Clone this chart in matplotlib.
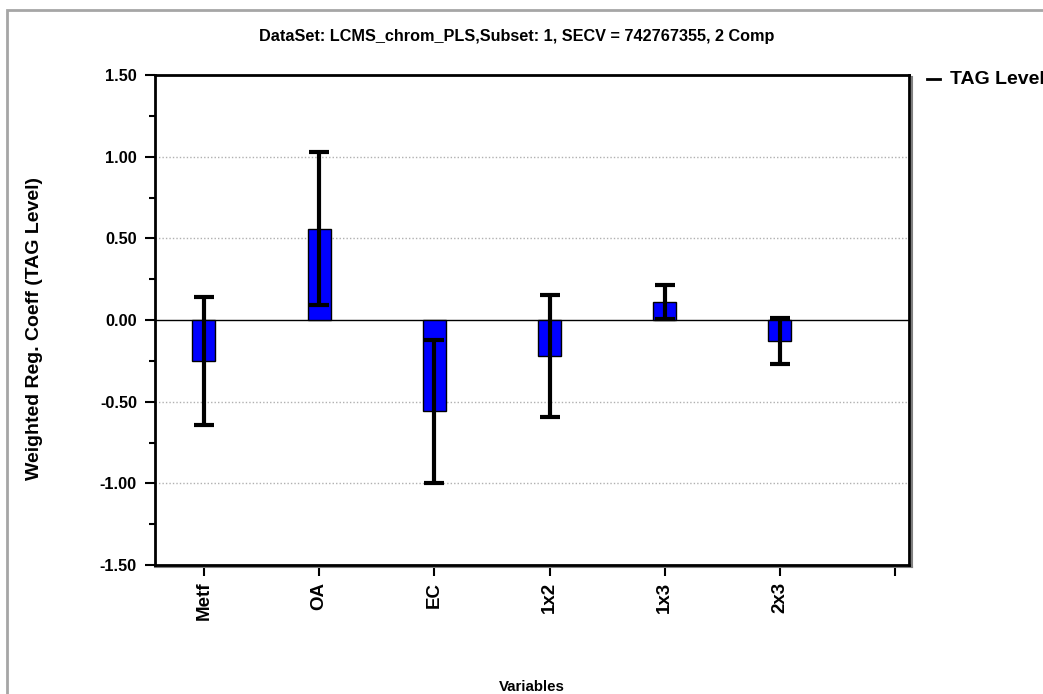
import matplotlib
matplotlib.use("Agg")
import matplotlib.pyplot as plt
from matplotlib.patches import Rectangle
from matplotlib.lines import Line2D
import numpy as np

# Weighted PLS regression coefficients with their uncertainty
categories = ["Metf", "OA", "EC", "1x2", "1x3", "2x3"]
coeffs = [-0.25, 0.56, -0.56, -0.22, 0.11, -0.13]
errors = [0.39, 0.47, 0.44, 0.375, 0.105, 0.14]
y_ticks = [-1.50, -1.00, -0.50, 0.00, 0.50, 1.00, 1.50]

plt.rcParams["font.family"] = ["Liberation Sans", "DejaVu Sans"]
plt.rcParams["font.weight"] = "bold"

W, H = 1043, 694
fig = plt.figure(figsize=(W / 100, H / 100), dpi=100)
fig.patch.set_facecolor("white")

# outer panel border
fig.add_artist(Rectangle((7 / W, -0.05), 1.1, 1 - 10 / H + 0.05,
                         transform=fig.transFigure, fill=False,
                         edgecolor="#a6a6a6", linewidth=2))

ax = fig.add_axes([155 / W, 1 - 565 / H, (909 - 155) / W, (565 - 75) / H])

x = np.arange(len(categories))
ax.bar(x, coeffs, width=0.2, color="#0000ff", edgecolor="black",
       linewidth=1.0, zorder=3)
ax.errorbar(x, coeffs, yerr=errors, fmt="none", ecolor="black",
            elinewidth=3.0, capsize=7, capthick=3.0, zorder=4)

ax.set_xlim(-0.425, 6.12)
ax.set_ylim(-1.5, 1.5)

ax.set_yticks(y_ticks)
ax.set_yticklabels([f"{v:.2f}" for v in y_ticks], fontsize=11.7, fontweight="bold")
ax.set_yticks(np.arange(-1.25, 1.5, 0.5), minor=True)
ax.tick_params(axis="y", which="major", direction="out", length=7, width=1.5, pad=6)
ax.tick_params(axis="y", which="minor", direction="out", length=4, width=1.5)

ax.set_xticks(list(x) + [6])
ax.set_xticklabels(categories + [""], rotation=90, fontsize=13.5, fontweight="bold")
ax.tick_params(axis="x", direction="out", length=8, width=1.5, pad=4)

# grid and zero line
for v in [-1.0, -0.5, 0.5, 1.0]:
    ax.axhline(v, color="#b0b0b0", linestyle=(0, (1, 1.5)), linewidth=1.0, zorder=1)
ax.axhline(0, color="black", linestyle="-", linewidth=1.0, zorder=2)

for s in ax.spines.values():
    s.set_linewidth(2.0)
    s.set_color("black")

# shadow on the right and bottom frame edges
ax.add_line(Line2D([1.004, 1.004], [-0.004, 0.995], transform=ax.transAxes,
                   color="#808080", linewidth=1.5, clip_on=False))
ax.add_line(Line2D([0.0, 1.004], [-0.004, -0.004], transform=ax.transAxes,
                   color="#808080", linewidth=1.5, clip_on=False))

fig.text(517 / W, 1 - 37 / H,
         "DataSet: LCMS_chrom_PLS,Subset: 1, SECV = 742767355, 2 Comp",
         ha="center", va="center", fontsize=11.7, fontweight="bold")
fig.text(35 / W, 1 - 329 / H, "Weighted Reg. Coeff (TAG Level)",
         ha="center", va="center", rotation=90, fontsize=14, fontweight="bold")
fig.text(532 / W, 1 - 687 / H, "Variables", ha="center", va="center",
         fontsize=10.8, fontweight="bold")

# legend entry
fig.add_artist(Line2D([927 / W, 940 / W], [1 - 79 / H, 1 - 79 / H],
                      transform=fig.transFigure, color="black", linewidth=2))
fig.text(950 / W, 1 - 79 / H, "TAG Level", ha="left", va="center",
         fontsize=14, fontweight="bold")

fig.savefig("out.png", dpi=100)
